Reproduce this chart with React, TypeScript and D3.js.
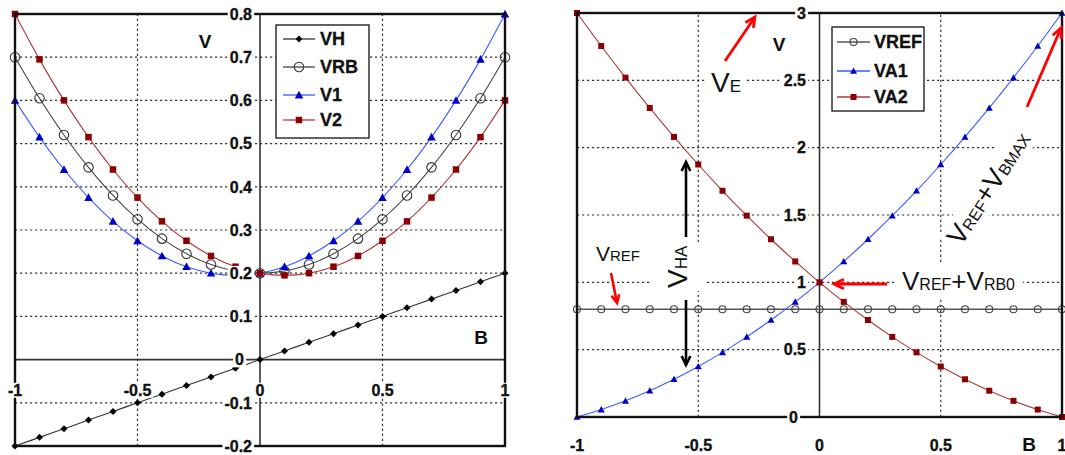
import { useEffect, useRef } from 'react';
import * as d3 from 'd3';

const W = 1065;
const H = 455;

// B values shared by every series (step 0.1)
const bValues = [-1, -0.9, -0.8, -0.7, -0.6, -0.5, -0.4, -0.3, -0.2, -0.1, 0, 0.1, 0.2, 0.3, 0.4, 0.5, 0.6, 0.7, 0.8, 0.9, 1];

// left panel
const vh = [-0.2, -0.18, -0.16, -0.14, -0.12, -0.1, -0.08, -0.06, -0.04, -0.02, 0, 0.02, 0.04, 0.06, 0.08, 0.1, 0.12, 0.14, 0.16, 0.18, 0.2];
const vrb = [0.7, 0.605, 0.52, 0.445, 0.38, 0.325, 0.28, 0.245, 0.22, 0.205, 0.2, 0.205, 0.22, 0.245, 0.28, 0.325, 0.38, 0.445, 0.52, 0.605, 0.7];
const v1 = [0.6, 0.515, 0.44, 0.375, 0.32, 0.275, 0.24, 0.215, 0.2, 0.195, 0.2, 0.215, 0.24, 0.275, 0.32, 0.375, 0.44, 0.515, 0.6, 0.695, 0.8];
const v2 = [0.8, 0.695, 0.6, 0.515, 0.44, 0.375, 0.32, 0.275, 0.24, 0.215, 0.2, 0.195, 0.2, 0.215, 0.24, 0.275, 0.32, 0.375, 0.44, 0.515, 0.6];

// right panel
const vref = [0.8, 0.8, 0.8, 0.8, 0.8, 0.8, 0.8, 0.8, 0.8, 0.8, 0.8, 0.8, 0.8, 0.8, 0.8, 0.8, 0.8, 0.8, 0.8, 0.8, 0.8];
const va1 = [0, 0.055, 0.12, 0.195, 0.28, 0.375, 0.48, 0.595, 0.72, 0.855, 1, 1.155, 1.32, 1.495, 1.68, 1.875, 2.08, 2.295, 2.52, 2.755, 3];
const va2 = [3, 2.755, 2.52, 2.295, 2.08, 1.875, 1.68, 1.495, 1.32, 1.155, 1, 0.855, 0.72, 0.595, 0.48, 0.375, 0.28, 0.195, 0.12, 0.055, 0];

// ticks
const xTicks = [-1, -0.5, 0, 0.5, 1];
const xLabels = ['-1', '-0.5', '0', '0.5', '1'];
const leftYTicks = [-0.2, -0.1, 0, 0.1, 0.2, 0.3, 0.4, 0.5, 0.6, 0.7, 0.8];
const leftYLabels = ['-0.2', '-0.1', '0', '0.1', '0.2', '0.3', '0.4', '0.5', '0.6', '0.7', '0.8'];
const rightYTicks = [0, 0.5, 1, 1.5, 2, 2.5, 3];
const rightYLabels = ['0', '0.5', '1', '1.5', '2', '2.5', '3'];

const leftNames = ['VH', 'VRB', 'V1', 'V2'];
const rightNames = ['VREF', 'VA1', 'VA2'];

const FONT = 'Arial, "Liberation Sans", sans-serif';
const BLUE_LINE = '#3a5cff';
const BLUE_MARK = '#0000cc';
const RED_LINE = '#a83838';
const RED_MARK = '#8b0000';

type Sel = d3.Selection<SVGGElement, unknown, null, undefined>;

// white box behind a text node, like the labels in the picture
function backdrop(g: Sel, t: d3.Selection<SVGTextElement, unknown, null, undefined>, px = 2, py = 1) {
  const bb = (t.node() as SVGTextElement).getBBox();
  g.insert('rect', () => t.node() as SVGTextElement)
    .attr('x', bb.x - px).attr('y', bb.y - py)
    .attr('width', bb.width + 2 * px).attr('height', bb.height + 2 * py)
    .attr('fill', 'white');
}

function marker(g: Sel, kind: string, x: number, y: number, size: number, color: string) {
  if (kind === 'diamond') {
    const s = size / 2;
    g.append('path').attr('d', `M${x},${y - s}L${x + s},${y}L${x},${y + s}L${x - s},${y}Z`).attr('fill', color);
  } else if (kind === 'circle') {
    g.append('circle').attr('cx', x).attr('cy', y).attr('r', size / 2)
      .attr('fill', 'white').attr('fill-opacity', 0).attr('stroke', color).attr('stroke-width', 1.1);
  } else if (kind === 'triangle') {
    const s = size / 2;
    g.append('path').attr('d', `M${x},${y - s}L${x + s},${y + s * 0.8}L${x - s},${y + s * 0.8}Z`).attr('fill', color);
  } else {
    const s = size / 2;
    g.append('rect').attr('x', x - s).attr('y', y - s).attr('width', size).attr('height', size).attr('fill', color);
  }
}

function arrow(g: Sel, x1: number, y1: number, x2: number, y2: number, color: string, w: number, head: number) {
  const a = Math.atan2(y2 - y1, x2 - x1);
  g.append('line').attr('x1', x1).attr('y1', y1).attr('x2', x2).attr('y2', y2)
    .attr('stroke', color).attr('stroke-width', w);
  const p = [a + Math.PI - 0.45, a + Math.PI + 0.45].map(t => [x2 + head * Math.cos(t), y2 + head * Math.sin(t)]);
  g.append('path').attr('d', `M${p[0][0]},${p[0][1]}L${x2},${y2}L${p[1][0]},${p[1][1]}`)
    .attr('fill', 'none').attr('stroke', color).attr('stroke-width', w).attr('stroke-linejoin', 'miter');
}

// text with a big letter and smaller subscript-like parts on one baseline
function mixedText(g: Sel, x: number, y: number, parts: [string, number][], anchor = 'start') {
  const t = g.append('text').attr('x', x).attr('y', y).attr('font-family', FONT)
    .attr('text-anchor', anchor).attr('fill', '#111');
  parts.forEach(([s, fs]) => t.append('tspan').attr('font-size', fs).text(s));
  return t;
}

interface Series { name: string; values: number[]; line: string; mark: string; kind: string; size: number; }

function drawPanel(root: Sel, x: d3.ScaleLinear<number, number>, y: d3.ScaleLinear<number, number>,
  yTicks: number[], yLabels: string[], series: Series[], labelRight: number, xLabelY: number, legend: { x0: number; y0: number; x1: number; y1: number; rows: number[]; lx0: number; lx1: number; tx: number }) {
  const [xa, xb] = x.range();
  const [ya, yb] = y.range();
  const g = root.append('g');

  // dotted grid
  const grid = g.append('g').attr('stroke', '#333').attr('stroke-width', 1.2).attr('stroke-dasharray', '2.2,2.8');
  yTicks.filter(v => v !== 0 && v !== y.domain()[0] && v !== y.domain()[1]).forEach(v => {
    grid.append('line').attr('x1', xa).attr('x2', xb).attr('y1', y(v)).attr('y2', y(v));
  });
  [-0.5, 0.5].forEach(v => {
    grid.append('line').attr('x1', x(v)).attr('x2', x(v)).attr('y1', ya).attr('y2', yb);
  });

  // zero axes
  g.append('line').attr('x1', x(0)).attr('x2', x(0)).attr('y1', ya).attr('y2', yb).attr('stroke', '#333').attr('stroke-width', 1.6);
  if (y.domain()[0] < 0) {
    g.append('line').attr('x1', xa).attr('x2', xb).attr('y1', y(0)).attr('y2', y(0)).attr('stroke', '#333').attr('stroke-width', 1.6);
  }

  // series
  const line = d3.line<number>().x((_, i) => x(bValues[i])).y(v => y(v)).curve(d3.curveCatmullRom.alpha(0.5));
  series.forEach(s => {
    g.append('path').attr('d', line(s.values) as string).attr('fill', 'none').attr('stroke', s.line).attr('stroke-width', s.name === 'VREF' ? 1.6 : 1.1);
    const mg = g.append('g');
    s.values.forEach((v, i) => marker(mg, s.kind, x(bValues[i]), y(v), s.size, s.mark));
  });

  // frame
  g.append('rect').attr('x', xa).attr('y', yb).attr('width', xb - xa).attr('height', ya - yb)
    .attr('fill', 'none').attr('stroke', '#111').attr('stroke-width', 2.4);

  // tick labels (white boxes over everything)
  const tl = g.append('g');
  const tickText = (t: d3.Selection<SVGTextElement, unknown, null, undefined>) =>
    t.attr('font-family', FONT).attr('font-weight', 'bold').attr('font-size', 16)
      .attr('fill', '#111').attr('stroke', '#111').attr('stroke-width', 0.35);
  yTicks.forEach((v, i) => {
    const t = tl.append('text').attr('x', labelRight - (v === 0 ? 8 : 0)).attr('y', y(v)).attr('dy', '0.36em')
      .attr('text-anchor', 'end').text(yLabels[i]);
    tickText(t);
    backdrop(tl, t, 2, -1);
  });
  xTicks.forEach((v, i) => {
    const t = tl.append('text').attr('x', x(v)).attr('y', xLabelY).attr('dy', '0.36em')
      .attr('text-anchor', 'middle').text(xLabels[i]);
    tickText(t);
    backdrop(tl, t, 2, -1);
  });

  // legend
  const lg = g.append('g');
  lg.append('rect').attr('x', legend.x0).attr('y', legend.y0).attr('width', legend.x1 - legend.x0).attr('height', legend.y1 - legend.y0)
    .attr('fill', 'white').attr('stroke', '#222').attr('stroke-width', 1.4);
  series.forEach((s, i) => {
    const ry = legend.rows[i];
    lg.append('line').attr('x1', legend.lx0).attr('x2', legend.lx1).attr('y1', ry).attr('y2', ry).attr('stroke', s.line).attr('stroke-width', 1.3);
    marker(lg, s.kind, (legend.lx0 + legend.lx1) / 2, ry, s.size, s.mark);
    lg.append('text').attr('x', legend.tx).attr('y', ry).attr('dy', '0.36em').attr('font-family', FONT)
      .attr('font-weight', 'bold').attr('font-size', 18).attr('fill', '#111')
      .attr('stroke', '#111').attr('stroke-width', 0.3).text(s.name);
  });
  return g;
}

export default function App() {
  const ref = useRef<SVGSVGElement>(null);

  useEffect(() => {
    const svg = d3.select(ref.current as SVGSVGElement);
    svg.selectAll('*').remove();
    const root = svg.append('g') as unknown as Sel;
    root.append('rect').attr('width', W).attr('height', H).attr('fill', 'white');

    // ---- left chart
    const xL = d3.scaleLinear().domain([-1, 1]).range([15, 505]);
    const yL = d3.scaleLinear().domain([-0.2, 0.8]).range([446, 14]);
    const left = drawPanel(root, xL, yL, leftYTicks, leftYLabels, [
      { name: leftNames[0], values: vh, line: '#333', mark: '#000', kind: 'diamond', size: 7 },
      { name: leftNames[1], values: vrb, line: '#444', mark: '#333', kind: 'circle', size: 9.5 },
      { name: leftNames[2], values: v1, line: BLUE_LINE, mark: BLUE_MARK, kind: 'triangle', size: 8.5 },
      { name: leftNames[3], values: v2, line: RED_LINE, mark: RED_MARK, kind: 'square', size: 6.5 },
    ], 252, 390, { x0: 276, y0: 25, x1: 369, y1: 138, rows: [39, 67, 95, 120], lx0: 283, lx1: 315, tx: 320 });
    left.append('text').attr('x', 205).attr('y', 48).attr('text-anchor', 'middle').attr('font-family', FONT)
      .attr('font-weight', 'bold').attr('font-size', 19).attr('fill', '#111').text('V');
    left.append('text').attr('x', 481).attr('y', 344).attr('text-anchor', 'middle').attr('font-family', FONT)
      .attr('font-weight', 'bold').attr('font-size', 19).attr('fill', '#111').text('B');

    // ---- right chart
    const xR = d3.scaleLinear().domain([-1, 1]).range([577, 1062]);
    const yR = d3.scaleLinear().domain([0, 3]).range([417, 13]);
    const right = drawPanel(root, xR, yR, rightYTicks, rightYLabels, [
      { name: rightNames[0], values: vref, line: '#555', mark: '#444', kind: 'circle', size: 7 },
      { name: rightNames[1], values: va1, line: BLUE_LINE, mark: BLUE_MARK, kind: 'triangle', size: 7 },
      { name: rightNames[2], values: va2, line: RED_LINE, mark: RED_MARK, kind: 'square', size: 6 },
    ], 806, 445, { x0: 832, y0: 27, x1: 924, y1: 111, rows: [42, 71, 97], lx0: 837, lx1: 870, tx: 874 });
    right.append('text').attr('x', 779).attr('y', 51).attr('text-anchor', 'middle').attr('font-family', FONT)
      .attr('font-weight', 'bold').attr('font-size', 19).attr('fill', '#111').text('V');
    right.append('text').attr('x', 1029).attr('y', 451).attr('text-anchor', 'middle').attr('font-family', FONT)
      .attr('font-weight', 'bold').attr('font-size', 19).attr('fill', '#111').text('B');

    // annotations
    const an = right.append('g') as unknown as Sel;
    const ve = mixedText(an, 711, 92, [['V', 28], ['E', 17]]);
    backdrop(an, ve, 4, 0);
    arrow(an, 725, 61, 755, 17, '#f00', 2.8, 11);

    const rot = an.append('g').attr('transform', 'translate(961,247) rotate(-57)') as unknown as Sel;
    const vb = mixedText(rot, 0, 0, [['V', 27], ['REF', 16], ['+', 27], ['V', 27], ['BMAX', 16]]);
    backdrop(rot, vb, 3, 0);
    arrow(an, 1027, 107, 1061, 28, '#f00', 2.8, 11);

    const vhaG = an.append('g').attr('transform', 'translate(687,288) rotate(-90)') as unknown as Sel;
    const vha = mixedText(vhaG, 0, 0, [['V', 28], ['HA', 17]]);
    backdrop(vhaG, vha, 3, 12);
    arrow(an, 686, 237, 686, 162, '#000', 2.6, 10);
    arrow(an, 686, 300, 686, 365, '#000', 2.6, 10);

    mixedText(an, 596, 261, [['V', 21], ['REF', 15]]);
    arrow(an, 611, 273, 617, 303, '#f00', 2.6, 9);

    const vr0 = mixedText(an, 902, 290, [['V', 26], ['REF', 16], ['+', 26], ['V', 26], ['RB0', 16]]);
    backdrop(an, vr0, 8, 2);
    arrow(an, 887, 284, 834, 284, '#f00', 2.8, 11);
  }, []);

  return (
    <svg ref={ref} width={W} height={H} style={{ position: 'absolute', left: 0, top: 0, background: 'white' }} />
  );
}
